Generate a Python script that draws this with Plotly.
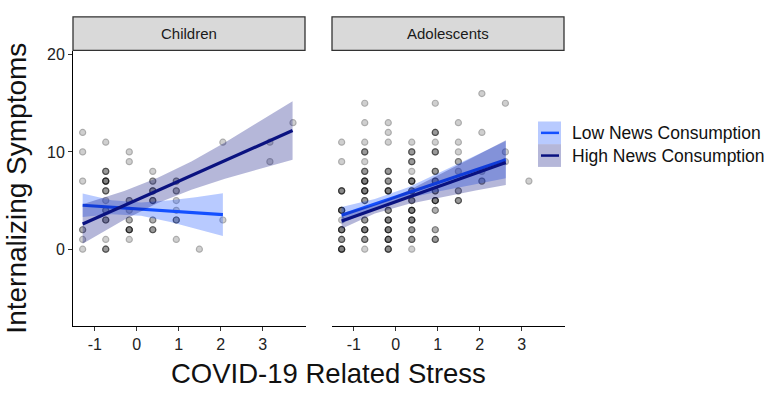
import numpy as np
import plotly.graph_objects as go

# ---------------- data ----------------
STRESS_LEVELS = [-1.29, -0.74, -0.18, 0.38, 0.94, 1.49, 2.05, 2.61, 3.17, 3.72]

# Children: column index, symptom value, number of overlapping observations
child_col = [0, 0, 0, 0, 0, 0,
             1, 1, 1, 1, 1, 1, 1, 1, 1,
             2, 2, 2, 2, 2, 2, 2,
             3, 3, 3, 3, 3, 3,
             4, 4, 4, 4, 4, 4,
             5, 6, 6, 8, 8, 9]
child_y = [12, 10, 7, 2, 1, 0,
           11, 8, 7, 6, 5, 4, 3, 1, 0,
           10, 9, 5, 4, 3, 2, 1,
           8, 7, 6, 5, 3, 2,
           7, 6, 5, 4, 3, 1,
           0, 11, 3, 11, 9, 13]
child_n = [1, 1, 1, 2, 1, 1,
           1, 3, 5, 3, 1, 2, 3, 1, 3,
           1, 1, 2, 1, 2, 5, 1,
           1, 2, 3, 3, 2, 3,
           2, 2, 1, 1, 3, 1,
           1, 1, 1, 1, 1, 1]

# Adolescents
adol_col = [0] * 8 + [1] * 13 + [2] * 11 + [3] * 12 + [4] * 11 + [5] * 7 + [6] * 4 + [7] * 3 + [8]
adol_y = [11, 9, 6, 4, 3, 2, 1, 0,
          15, 13, 11, 10, 9, 8, 7, 6, 5, 3, 2, 1, 0,
          13, 12, 11, 8, 7, 6, 4, 3, 2, 1, 0,
          11, 10, 9, 8, 7, 6, 5, 4, 3, 2, 1, 0,
          15, 12, 11, 10, 8, 7, 6, 5, 4, 2, 1,
          13, 11, 10, 9, 8, 6, 5,
          16, 12, 8, 7,
          15, 10, 9,
          7]
adol_n = [1, 1, 4, 5, 1, 5, 3, 5,
          1, 1, 1, 3, 1, 3, 5, 5, 3, 3, 5, 3, 1,
          1, 1, 1, 3, 3, 5, 3, 5, 5, 5, 4,
          1, 3, 3, 1, 5, 3, 3, 5, 5, 3, 3, 1,
          1, 3, 1, 3, 3, 3, 3, 5, 2, 2, 3,
          1, 1, 1, 2, 1, 2, 3,
          1, 1, 1, 2,
          1, 1, 1,
          1]

# Regression fits with confidence bands
child_low_x = [-1.29, -0.6, 0.1, 0.8, 1.4, 2.05]
child_low_fit = [4.52, 4.32, 4.12, 3.91, 3.74, 3.55]
child_low_up = [5.72, 5.04, 4.79, 5.03, 5.35, 5.75]
child_low_lo = [3.32, 3.60, 3.45, 2.79, 2.13, 1.35]

child_high_x = [-1.29, -0.3, 0.5, 1.3, 2.1, 2.9, 3.71]
child_high_fit = [2.6, 4.5, 6.04, 7.57, 9.11, 10.65, 12.2]
child_high_up = [4.63, 5.98, 7.34, 9.02, 10.97, 13.05, 15.2]
child_high_lo = [0.57, 3.02, 4.74, 6.12, 7.25, 8.25, 9.2]

adol_low_x = [-1.29, -0.5, 0.3, 1.1, 1.9, 2.62]
adol_low_fit = [3.5, 4.65, 5.82, 6.99, 8.15, 9.2]
adol_low_up = [4.35, 5.15, 6.38, 7.97, 9.62, 11.12]
adol_low_lo = [2.65, 4.15, 5.26, 6.01, 6.68, 7.28]

adol_high_x = [-1.29, -0.5, 0.3, 1.1, 1.9, 2.62]
adol_high_fit = [2.9, 4.11, 5.34, 6.57, 7.8, 8.9]
adol_high_up = [3.7, 4.56, 6.03, 7.77, 9.57, 11.2]
adol_high_lo = [2.1, 3.66, 4.65, 5.37, 6.03, 6.6]

panel_titles = ["Children", "Adolescents"]
series_names = ["Low News Consumption", "High News Consumption"]
x_ticks = [-1, 0, 1, 2, 3]
x_tick_labels = ["-1", "0", "1", "2", "3"]
y_ticks = [0, 10, 20]
y_tick_labels = ["0", "10", "20"]

# ---------------- styling ----------------
W, H = 781, 394
FONT = "Liberation Sans, Arial, sans-serif"
LOW_LINE = "#1450FF"
LOW_FILL = "rgba(20,80,255,0.30)"
HIGH_LINE = "#0A1280"
HIGH_FILL = "rgba(10,18,128,0.30)"


def pxx(x):
    return x / W


def pxy(y):
    return 1 - y / H


fig = go.Figure()


def add_points(cols, ys, ns, xa, ya):
    xs = np.repeat([STRESS_LEVELS[c] for c in cols], ns)
    yy = np.repeat(ys, ns)
    fig.add_trace(go.Scatter(
        x=xs, y=yy, mode="markers", xaxis=xa, yaxis=ya, showlegend=False,
        hoverinfo="skip",
        marker=dict(size=6, color="rgb(110,110,110)", opacity=0.32,
                    line=dict(color="black", width=1.2))))


def add_band(x, lo, up, fit, fill, line, xa, ya):
    fig.add_trace(go.Scatter(
        x=list(x) + list(x)[::-1], y=list(up) + list(lo)[::-1],
        fill="toself", fillcolor=fill, line=dict(width=0), mode="lines",
        xaxis=xa, yaxis=ya, showlegend=False, hoverinfo="skip"))
    fig.add_trace(go.Scatter(
        x=x, y=fit, mode="lines", line=dict(color=line, width=3.2),
        xaxis=xa, yaxis=ya, showlegend=False, hoverinfo="skip"))


add_points(child_col, child_y, child_n, "x", "y")
add_points(adol_col, adol_y, adol_n, "x2", "y2")
add_band(child_low_x, child_low_lo, child_low_up, child_low_fit, LOW_FILL, LOW_LINE, "x", "y")
add_band(child_high_x, child_high_lo, child_high_up, child_high_fit, HIGH_FILL, HIGH_LINE, "x", "y")
add_band(adol_low_x, adol_low_lo, adol_low_up, adol_low_fit, LOW_FILL, LOW_LINE, "x2", "y2")
add_band(adol_high_x, adol_high_lo, adol_high_up, adol_high_fit, HIGH_FILL, HIGH_LINE, "x2", "y2")

XR = [-1.52, 4.03]
YR = [-7.88, 20.33]
ydom = [pxy(325), pxy(47)]

common_x = dict(range=XR, showgrid=False, zeroline=False, showline=True,
                linecolor="black", linewidth=1, ticks="outside", ticklen=4,
                tickcolor="#333", tickwidth=1, tickvals=x_ticks, ticktext=x_tick_labels,
                tickfont=dict(family=FONT, size=16, color="#222"))

fig.update_layout(
    width=W, height=H, margin=dict(l=0, r=0, t=0, b=0),
    paper_bgcolor="white", plot_bgcolor="white", showlegend=False,
    xaxis=dict(domain=[pxx(73), pxx(306)], anchor="y", **common_x),
    xaxis2=dict(domain=[pxx(332), pxx(565)], anchor="y2", **common_x),
    yaxis=dict(domain=ydom, range=YR, anchor="x", showgrid=False, zeroline=False,
               showline=True, linecolor="black", linewidth=1, ticks="outside",
               ticklen=4, tickcolor="#333", tickvals=y_ticks, ticktext=y_tick_labels,
               tickfont=dict(family=FONT, size=16, color="#222")),
    yaxis2=dict(domain=ydom, range=YR, anchor="x2", showgrid=False, zeroline=False,
                showline=False, showticklabels=False, ticks=""),
)

shapes = []
annotations = []
# facet strips
for (x0, x1), title in zip([(73, 305), (332, 564)], panel_titles):
    shapes.append(dict(type="rect", xref="paper", yref="paper",
                       x0=pxx(x0), x1=pxx(x1), y0=pxy(46), y1=pxy(12),
                       fillcolor="#D9D9D9", line=dict(color="#333", width=1.3)))
    annotations.append(dict(x=pxx((x0 + x1) / 2), y=pxy(29), xref="paper", yref="paper",
                            text=title, showarrow=False, xanchor="center", yanchor="middle",
                            font=dict(family=FONT, size=15, color="#1a1a1a")))

# legend (drawn manually to mimic ggplot keys)
for i, (name, fill, line) in enumerate(zip(series_names, [LOW_FILL, HIGH_FILL], [LOW_LINE, HIGH_LINE])):
    y0 = 118 + i * 23
    shapes.append(dict(type="rect", xref="paper", yref="paper",
                       x0=pxx(538), x1=pxx(561), y0=pxy(y0 + 23), y1=pxy(y0),
                       fillcolor=fill, line=dict(width=0)))
    shapes.append(dict(type="line", xref="paper", yref="paper",
                       x0=pxx(541), x1=pxx(559), y0=pxy(y0 + 11.5), y1=pxy(y0 + 11.5),
                       line=dict(color=line, width=2.5)))
    annotations.append(dict(x=pxx(570), y=pxy(y0 + 12), xref="paper", yref="paper",
                            text=name, showarrow=False, xanchor="left", yanchor="middle",
                            font=dict(family=FONT, size=17.5, color="#111")))

# axis titles
annotations.append(dict(x=pxx(328), y=pxy(373), xref="paper", yref="paper",
                        text="COVID-19 Related Stress", showarrow=False,
                        xanchor="center", yanchor="middle",
                        font=dict(family=FONT, size=27.5, color="#111")))
annotations.append(dict(x=pxx(17), y=pxy(186), xref="paper", yref="paper",
                        text="Internalizing Symptoms", showarrow=False, textangle=-90,
                        xanchor="center", yanchor="middle",
                        font=dict(family=FONT, size=28, color="#111")))

fig.update_layout(shapes=shapes, annotations=annotations)
fig.write_html("out.html", config={"displayModeBar": False},
               post_script="document.body.style.margin='0px';document.body.style.overflow='hidden';")
